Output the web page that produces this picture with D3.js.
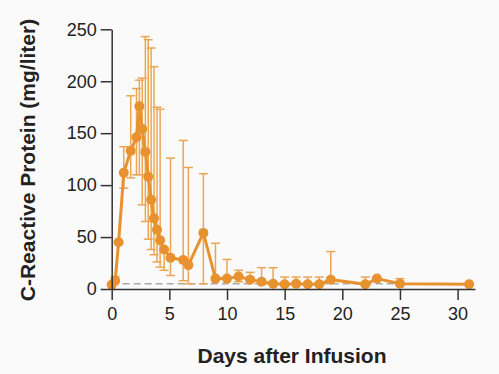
<!DOCTYPE html>
<html>
<head>
<meta charset="utf-8">
<title>C-Reactive Protein</title>
<script src="https://d3js.org/d3.v7.min.js"></script>
<style>
    body { margin: 0; background: #fafafa; }
    .axis text { font: 18px "Liberation Sans", Arial, sans-serif; fill: #222; }
    .axis path, .axis line { stroke: #333; stroke-width: 1.5px; }
    .title { font: bold 21px "Liberation Sans", Arial, sans-serif; fill: #222; }
    .err { stroke: #eca653; stroke-width: 1.5px; fill: none; }
    .trend { stroke: #e8912f; stroke-width: 3px; fill: none; }
    .dot { fill: #e8912f; }
    .normal { stroke: #aaa; stroke-width: 1.5px; stroke-dasharray: 7,4; }
</style>
</head>
<body>
<script>
    // days after infusion, mean CRP, and error bar ends (null = not shown)
    var days  = [0, 0.3, 0.6, 1.05, 1.65, 2.15, 2.4, 2.65, 2.92, 3.17, 3.42, 3.67, 3.93, 4.2, 4.55, 5.1, 6.2, 6.65, 7.95, 9, 10, 11, 12, 13, 14, 15, 16, 17, 18, 19, 22, 23, 25, 31];
    var crp   = [4, 8, 45, 112, 133, 146, 176, 154, 132, 108, 86, 68, 57, 47, 38, 30, 28, 23, 54, 10, 10, 12, 9, 7, 5, 4.5, 5, 4.5, 4.5, 9, 4.5, 10, 5, 4.5];
    var upper = [null, 12, null, 137, 186, 193, 201, 203, 243, 240, 232, 214, 175, 173, null, 126, 143, 117, 111, 44, 28.5, 18, 16, 20.5, 20.5, 11.5, 11.5, 11.5, 11.5, 36, 11.5, null, 10, null];
    var lower = [null, null, null, 97, 107, 110, 110, 81, 65, 48, 38, 33, 26, 21, 18, 13, 8, 5, 5, null, null, 7, null, null, null, null, null, null, null, null, null, null, null, null];
    var xTicks = [0, 5, 10, 15, 20, 25, 30];
    var yTicks = [0, 50, 100, 150, 200, 250];
    var normalLimit = 5;

    var svg = d3.select("body").append("svg")
        .attr("width", 499)
        .attr("height", 374);

    var x = d3.scaleLinear().domain([0, 31.5]).range([111.7, 474.9]);
    var y = d3.scaleLinear().domain([0, 250]).range([289, 29.3]);

    var pts = days.map((d, i) => ({ day: d, v: crp[i], hi: upper[i], lo: lower[i] }));

    // upper limit of normal
    svg.append("line")
        .attr("class", "normal")
        .attr("x1", x(0)).attr("x2", x(31))
        .attr("y1", y(normalLimit)).attr("y2", y(normalLimit));

    // error bars
    var cap = 4.5;
    var eb = svg.append("g");
    pts.forEach(p => {
        var top = p.hi != null ? p.hi : p.v;
        var bot = p.lo != null ? p.lo : p.v;
        if (top === bot) return;
        eb.append("line").attr("class", "err")
            .attr("x1", x(p.day)).attr("x2", x(p.day))
            .attr("y1", y(top)).attr("y2", y(bot));
        if (p.hi != null)
            eb.append("line").attr("class", "err")
                .attr("x1", x(p.day) - cap).attr("x2", x(p.day) + cap)
                .attr("y1", y(p.hi)).attr("y2", y(p.hi));
        if (p.lo != null)
            eb.append("line").attr("class", "err")
                .attr("x1", x(p.day) - cap).attr("x2", x(p.day) + cap)
                .attr("y1", y(p.lo)).attr("y2", y(p.lo));
    });

    svg.append("path")
        .datum(pts)
        .attr("class", "trend")
        .attr("d", d3.line().x(d => x(d.day)).y(d => y(d.v)));

    svg.selectAll(".dot")
        .data(pts)
        .enter()
        .append("circle")
        .attr("class", "dot")
        .attr("cx", d => x(d.day))
        .attr("cy", d => y(d.v))
        .attr("r", 5);

    // axes
    svg.append("g")
        .attr("class", "axis")
        .attr("transform", "translate(0," + y(0) + ")")
        .call(d3.axisBottom(x).tickValues(xTicks).tickSize(11).tickSizeOuter(0).tickPadding(7));

    svg.append("g")
        .attr("class", "axis")
        .attr("transform", "translate(" + x(0) + ",0)")
        .call(d3.axisLeft(y).tickValues(yTicks).tickSize(11).tickSizeOuter(0).tickPadding(4));

    svg.append("text")
        .attr("class", "title")
        .attr("x", 292)
        .attr("y", 363)
        .attr("text-anchor", "middle")
        .text("Days after Infusion");

    svg.append("text")
        .attr("class", "title")
        .attr("transform", "translate(28,160) rotate(-90)")
        .attr("dy", "0.35em")
        .attr("text-anchor", "middle")
        .text("C-Reactive Protein (mg/liter)");
</script>
</body>
</html>
